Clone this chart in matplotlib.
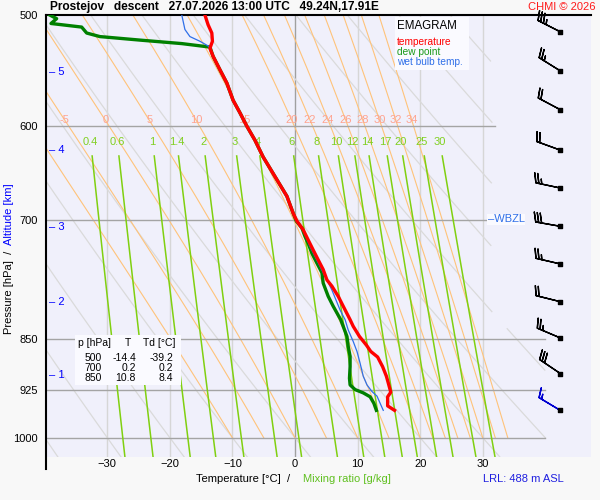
import numpy as np
import matplotlib.pyplot as plt
from matplotlib.ticker import NullLocator, NullFormatter

plt.rcParams['font.family'] = ['Liberation Sans', 'DejaVu Sans']

# ---- sounding ----
temp_p = [956, 949, 935, 928, 914, 904, 890, 876, 868, 859, 847, 833, 824, 806, 793,
          780, 772, 759, 747, 735, 723, 711, 701, 692, 673, 655, 631, 614, 600, 587,
          575, 559, 547, 535, 528, 522, 515, 508, 500]
temp_t = [15.9, 14.8, 14.8, 15.3, 14.9, 14.6, 14.0, 13.2, 12.1, 11.4, 10.3, 9.3, 8.8, 7.7, 6.9,
          5.9, 5.1, 4.5, 3.7, 2.9, 2.1, 1.3, 0.3, -0.3, -1.3, -2.9, -5.1, -6.4, -7.7, -8.8,
          -9.9, -10.9, -12.0, -13.1, -13.6, -13.2, -13.3, -13.9, -14.4]

dew_p = [956, 945, 935, 929, 924, 917, 907, 890, 875, 861, 847, 833, 824, 806, 793,
         776, 763, 751, 739, 727, 719, 709, 701, 692, 673, 655, 631, 614, 600, 587,
         575, 559, 547, 535, 527, 524, 521, 518, 515, 510, 507, 503, 500]
dew_t = [13.0, 12.6, 12.0, 10.9, 9.6, 8.8, 8.7, 8.8, 8.8, 8.5, 8.3, 7.7, 7.3, 6.1, 5.3,
         4.5, 4.3, 3.5, 2.7, 2.1, 1.6, 1.1, 0.2, -0.3, -1.3, -2.9, -5.1, -6.4, -7.7, -8.8,
         -9.9, -10.9, -12.0, -13.1, -13.6, -18.1, -24.8, -31.2, -33.3, -34.1, -39.0, -38.1, -39.2]

wb_p = [956, 945, 934, 927, 917, 904, 885, 868, 854, 838, 824, 811, 785, 755, 731, 711,
        701, 692, 673, 655, 631, 614, 600, 587, 575, 559, 547, 535, 528, 526, 522, 518, 512, 500]
wb_t = [14.1, 13.6, 13.1, 12.3, 11.5, 10.9, 10.4, 9.9, 9.3, 8.5, 8.0, 7.2, 5.9, 4.0, 2.4, 1.3,
        0.2, -0.3, -1.3, -2.9, -5.1, -6.4, -7.7, -8.8, -9.9, -10.9, -12.0, -13.1, -13.6,
        -13.9, -15.2, -16.8, -17.6, -18.1]

wind_p = [514, 548, 584, 624, 664, 707, 752, 800, 849, 900, 956]
wind_dir = [297, 302, 298, 290, 282, 280, 283, 284, 293, 304, 301]
wind_kt = [35, 25, 20, 20, 25, 30, 25, 20, 25, 30, 15]

alt_km = [1, 2, 3, 4, 5]
alt_p = [902, 800, 708, 624, 549]

table_p = ['500', '700', '850']
table_t = ['-14.4', '0.2', '10.8']
table_td = ['-39.2', '0.2', '8.4']

p_levels = [500, 600, 700, 850, 925, 1000]
t_ticks = [-30, -20, -10, 0, 10, 20, 30]
theta_w = [-10, -5, 0, 5, 10, 15, 20, 22, 24, 26, 28, 30, 32, 34]
mix_ratio = [0.4, 0.6, 1, 1.4, 2, 3, 4, 6, 8, 10, 12, 14, 17, 20, 25, 30]
dry_theta = list(range(-40, 101, 10))

wbzl_p = 699

# ---- helpers ----
W, H = 600, 500


def fpx(x, y):
    return x / W, 1 - y / H


def sat_e(tc):
    return 6.112 * np.exp(17.67 * tc / (tc + 243.5))


def pseudo_lapse(p, tk):
    rd, cp, lv = 287.04, 1005.7, 2.501e6
    es = sat_e(tk - 273.15)
    rs = 0.622 * es / (p - es)
    return (rd * tk + lv * rs) / (p * (cp + lv * lv * rs * 0.622 / (rd * tk * tk)))


def pseudo_adiabat(twc, pres):
    tk = twc + 273.15
    out = [tk]
    for i in range(1, len(pres)):
        dp = pres[i] - pres[i - 1]
        k1 = pseudo_lapse(pres[i - 1], tk)
        k2 = pseudo_lapse(pres[i - 1] + dp, tk + dp * k1)
        tk = tk + dp * 0.5 * (k1 + k2)
        out.append(tk)
    return np.array(out) - 273.15


def mix_line(w, p):
    e = w * p / (622.0 + w)
    le = np.log(e / 6.112)
    return 243.5 * le / (17.67 - le)


fig = plt.figure(figsize=(6, 5), dpi=100, facecolor='#f8f8f8')
x0, y0 = fpx(46, 457)
ax = fig.add_axes([x0, y0, (591 - 46) / W, (457 - 15) / H])
ax.set_facecolor('#f0f0fb')
ax.set_yscale('log')
ax.set_ylim(1032, 500)
ax.set_xlim(-39.8, 47.3)

# grid
for t in t_ticks:
    ax.plot([t, t], [500, 1032], color='#a0a0a0' if t == 0 else '#d6d6d6', lw=1, zorder=1)
for p in p_levels[1:]:
    tend = 32 if p < 800 else 40
    ax.plot([-40, tend], [p, p], color='#a4a4a4', lw=1, zorder=2)

# dry adiabats
pp = np.linspace(500, 1032, 300)
tmax = np.where(pp < 835, 31.5, 40)
for th in dry_theta:
    tt = (th + 273.15) * (pp / 1000.0) ** 0.2857 - 273.15
    tt = np.where(tt <= tmax, tt, np.nan)
    ax.plot(tt, pp, color='#dadada', lw=0.9, zorder=1)

# pseudo adiabats
pw = np.arange(1000, 499, -2.0)
for tw in theta_w:
    tt = pseudo_adiabat(tw, pw)
    ax.plot(tt, pw, color='#ffc37a', lw=0.8, zorder=1)
    tl = np.interp(594, pw[::-1], tt[::-1])
    if tl > -39:
        ax.text(tl, 594, str(tw), color='#ffa38f', fontsize=8, ha='center', va='center', zorder=2)

# mixing ratio lines
pm = np.linspace(630, 1032, 100)
for w in mix_ratio:
    ax.plot(mix_line(w, pm), pm, color='#80d010', lw=1.1, zorder=2)
    ax.text(mix_line(w, 616), 616, '%g' % w, color='#80d020', fontsize=8,
            ha='center', va='center', zorder=2)

# boxes
leg = plt.Rectangle(fpx(395, 70), 74 / W, 53 / H, transform=fig.transFigure,
                    facecolor='#fafaff', edgecolor='none', zorder=5)
ax.add_artist(leg)
tab = plt.Rectangle(fpx(75, 385), 106 / W, 50 / H, transform=fig.transFigure,
                    facecolor='#fafaff', edgecolor='none', zorder=5)
ax.add_artist(tab)

# sounding
ax.plot(dew_t, dew_p, color='#008000', lw=2.4, zorder=6)
ax.plot(wb_t, wb_p, color='#2f6fe8', lw=0.9, zorder=7)
ax.plot(temp_t, temp_p, color='#ff0000', lw=2.4, zorder=8)

# wind barbs
d = np.deg2rad(wind_dir)
u = -np.array(wind_kt) * np.sin(d)
v = -np.array(wind_kt) * np.cos(d)
xb = np.full(len(wind_p), 42.4)
bsize = dict(spacing=0.12, height=0.38)
ax.barbs(xb[:-1], wind_p[:-1], u[:-1], v[:-1], length=6.0, lw=1, color='black',
         sizes=bsize, clip_on=False, zorder=9)
ax.barbs(xb[-1:], wind_p[-1:], u[-1:], v[-1:], length=6.0, lw=1, color='#0000d0',
         sizes=bsize, clip_on=False, zorder=9)
ax.scatter(xb, wind_p, marker='s', s=6, color='black', zorder=10, clip_on=False)

# altitude marks
for a, p in zip(alt_km, alt_p):
    ax.text(-39.3, p, '\u2013 %d' % a, color='#0000ff', fontsize=8, ha='left',
            va='center', zorder=4)

ax.text(30.8, wbzl_p, '\u2013WBZL', color='#2f6fe8', fontsize=8, ha='left', va='center',
        zorder=5, bbox=dict(facecolor='#fafaff', edgecolor='none', pad=0.5))

# axes
for s in ['right', 'bottom', 'left']:
    ax.spines[s].set_visible(False)
ax.spines['top'].set_linewidth(1.5)
fig.add_artist(plt.Line2D([46 / W, 46 / W], [1 - 15 / H, 1 - 469 / H], color='black', lw=1.5))
ax.set_yticks(p_levels)
ax.set_yticklabels([str(p) for p in p_levels])
ax.yaxis.set_minor_locator(NullLocator())
ax.yaxis.set_minor_formatter(NullFormatter())
ax.set_xticks(t_ticks)
ax.tick_params(length=0, labelsize=8)
ax.tick_params(axis='y', pad=6)
ax.tick_params(axis='x', pad=1.5)

# texts
fig.text(*fpx(50, 7), 'Prostejov   descent   27.07.2026 13:00 UTC   49.24N,17.91E',
         fontsize=8.6, fontweight='bold', ha='left', va='center')
fig.text(*fpx(596, 7), 'CHMI \u00a9 2026', color='#ff1a1a', fontsize=8, ha='right', va='center')
fig.text(*fpx(397, 26), 'EMAGRAM', fontsize=8.3, ha='left', va='center', zorder=6)
fig.text(*fpx(397, 42), 'temperature', color='#ff0000', fontsize=7.3, ha='left', va='center')
fig.text(*fpx(397, 52), 'dew point', color='#1a9a1a', fontsize=7.3, ha='left', va='center')
fig.text(*fpx(397, 62), 'wet bulb temp.', color='#2f6fe8', fontsize=7.3, ha='left', va='center')

fig.text(*fpx(78, 343), 'p [hPa]', fontsize=7.5, ha='left', va='center')
fig.text(*fpx(128, 343), 'T', fontsize=7.5, ha='center', va='center')
fig.text(*fpx(143, 343), 'Td [\u00b0C]', fontsize=7.5, ha='left', va='center')
for i in range(len(table_p)):
    y = 358 + 10 * i
    fig.text(*fpx(102, y), table_p[i], fontsize=7.5, ha='right', va='center')
    fig.text(*fpx(136, y), table_t[i], fontsize=7.5, ha='right', va='center')
    fig.text(*fpx(173, y), table_td[i], fontsize=7.5, ha='right', va='center')

fig.text(*fpx(290, 479), 'Temperature [\u00b0C]  /', fontsize=8, ha='right', va='center')
fig.text(*fpx(303, 479), 'Mixing ratio [g/kg]', color='#60c020', fontsize=8, ha='left', va='center')
fig.text(*fpx(483, 479), 'LRL: 488 m ASL', color='#2020e0', fontsize=8, ha='left', va='center')
fig.text(*fpx(9, 334), 'Pressure [hPa]  /', fontsize=8, rotation=90, ha='center', va='bottom')
fig.text(*fpx(9, 245), 'Altitude [km]', color='#0000ff', fontsize=8, rotation=90,
         ha='center', va='bottom')

fig.savefig('out.png', dpi=100, facecolor=fig.get_facecolor())
